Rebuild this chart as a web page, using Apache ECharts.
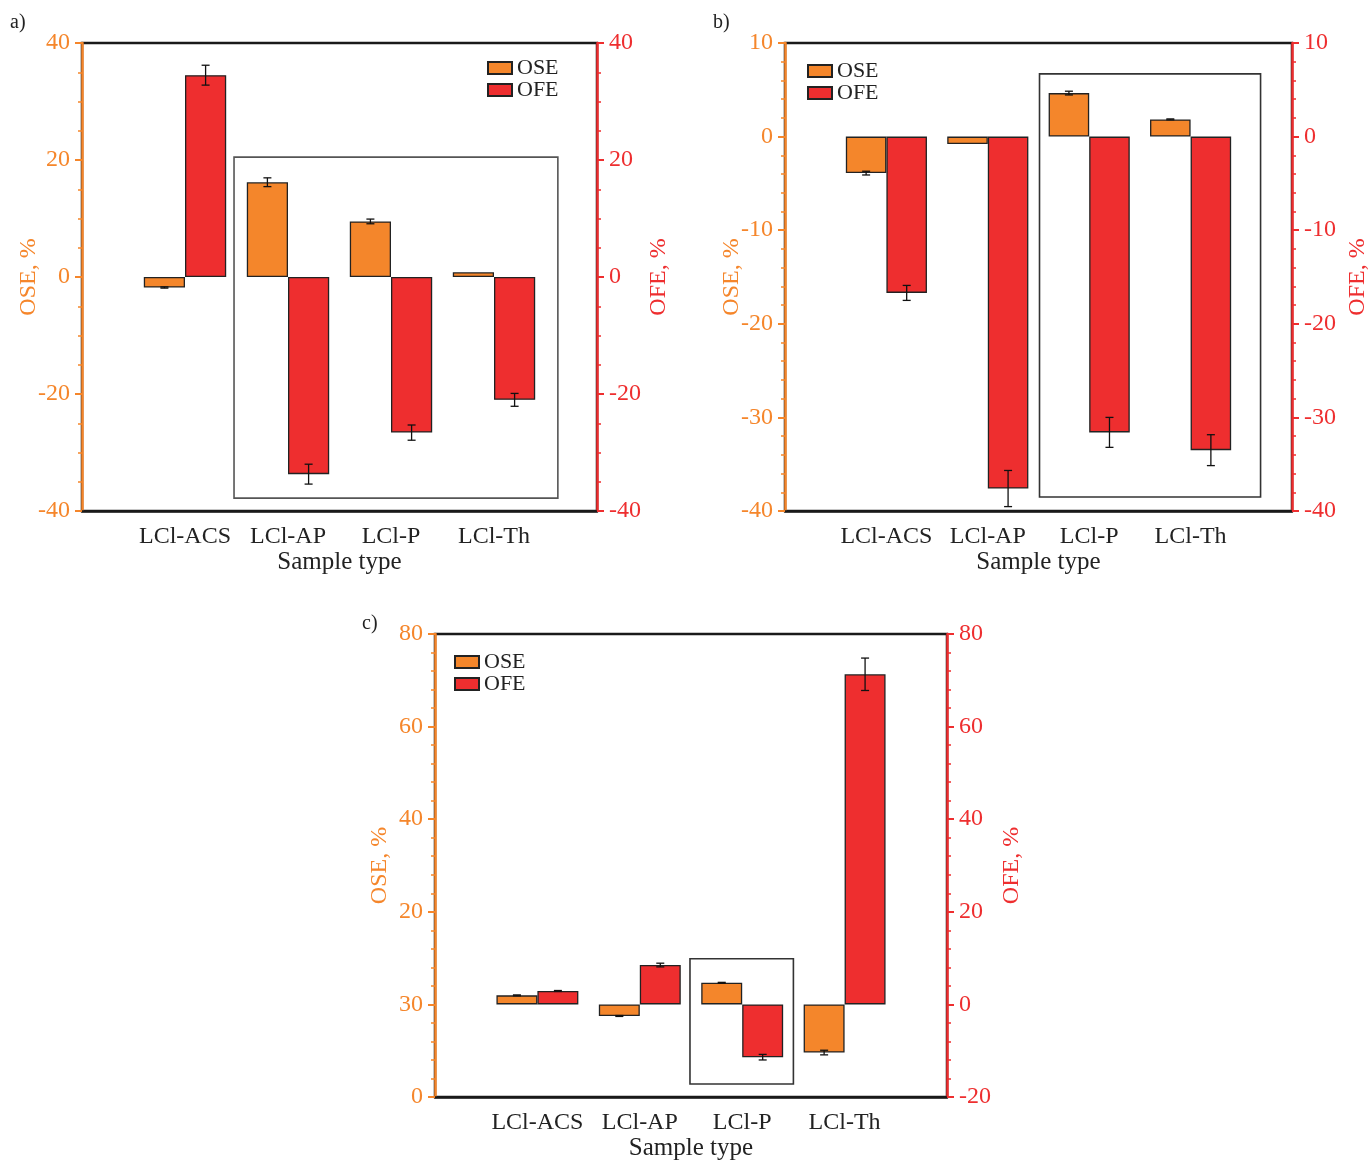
<!DOCTYPE html>
<html><head><meta charset="utf-8">
<script src="https://cdn.jsdelivr.net/npm/echarts@6/dist/echarts.min.js"></script>
<style>html,body{margin:0;padding:0;background:#fff}#c{width:1371px;height:1162px}</style>
</head><body><div id="c"></div>
<script>
// ---- data ----
const categories = ['', 'LCl-ACS', 'LCl-AP', 'LCl-P', 'LCl-Th', ' '];
// panel a
const aOSE = [-1.8, 16.2, 9.5, 0.8];
const aOSEerr = [0.1, 0.75, 0.4, 0];
const aOFE = [34.5, -33.7, -26.6, -21.0];
const aOFEerr = [1.7, 1.7, 1.3, 1.1];
// panel b
const bOSE = [-3.9, -0.8, 4.65, 1.84];
const bOSEerr = [0.2, 0, 0.2, 0.05];
const bOFE = [-16.7, -37.6, -31.6, -33.5];
const bOFEerr = [0.8, 1.93, 1.6, 1.65];
// panel c
const cOSE = [1.95, -2.5, 4.66, -10.4];
const cOSEerr = [0.1, 0.1, 0.1, 0.5];
const cOFE = [2.9, 8.5, -11.4, 71.3];
const cOFEerr = [0.1, 0.4, 0.6, 3.5];
// tick labels of panel c left axis (as printed in the original)
const cLeftTicks = [-20, 0, 20, 40, 60, 80];
const cLeftTickLabels = ['0', '30', '20', '40', '60', '80'];
// inset boxes: [x from, x to (category units), y top, y bottom]
const aBox = [1.476, 4.62, 20.5, -37.8];
const bBox = [2.51, 4.69, 6.7, -38.5];
const cBox = [2.49, 3.50, 9.85, -17.2];

const F = '"Liberation Serif", "DejaVu Serif", serif';
const ORANGE = '#F5862B', RED = '#EE2E2F';
const ORANGE_BAR = '#F4862B', RED_BAR = '#EE2E2F';
const DARK = '#222';

function xAx(gi) {
  return {
    type: 'category', gridIndex: gi, data: categories, boundaryGap: false, position: 'bottom',
    axisLine: {show: true, onZero: false, lineStyle: {color: '#1a1a1a', width: 2.5}},
    axisTick: {show: false},
    axisLabel: {interval: 0, color: DARK, fontFamily: F, fontSize: 24, margin: 14},
    splitLine: {show: false},
    name: 'Sample type', nameLocation: 'middle', nameGap: 39, nameMoveOverlap: false,
    nameTextStyle: {color: DARK, fontFamily: F, fontSize: 25}
  };
}
function yAx(gi, pos, min, max, interval, split, color, name, gap, fmt) {
  return {
    type: 'value', gridIndex: gi, position: pos, min, max, interval,
    name, nameLocation: 'middle', nameGap: gap, nameRotate: 90, nameMoveOverlap: false,
    nameTextStyle: {color, fontFamily: F, fontSize: 24},
    axisLine: {show: true, onZero: false, lineStyle: {color, width: 2.5}},
    axisTick: {show: true, inside: false, length: 7, lineStyle: {color, width: 2}},
    minorTick: {show: true, splitNumber: split, length: 4, lineStyle: {color, width: 1.5}},
    splitLine: {show: false},
    axisLabel: {color, fontFamily: F, fontSize: 24, margin: 12, formatter: fmt}
  };
}
function bar(name, vals, color, xi, yi) {
  return {
    type: 'bar', name, xAxisIndex: xi, yAxisIndex: yi, barWidth: '40%', barGap: '0%', z: 3,
    itemStyle: {color, borderColor: DARK, borderWidth: 1.3},
    data: vals.map((v, i) => [i + 1, v])
  };
}
function err(vals, errs, side, xi, yi) {
  return {
    type: 'custom', xAxisIndex: xi, yAxisIndex: yi, z: 6, silent: true,
    data: vals.map((v, i) => [i + 1, v, errs[i]]),
    renderItem(params, api) {
      const x = api.value(0), v = api.value(1), e = api.value(2);
      if (!e) return null;
      const band = api.size([1, 0])[0];
      const p0 = api.coord([x, v - e]), p1 = api.coord([x, v + e]);
      const cx = p0[0] + side * band * 0.2;
      const cap = 4, st = {stroke: '#111', lineWidth: 1.3};
      return {type: 'group', children: [
        {type: 'line', shape: {x1: cx, y1: p0[1], x2: cx, y2: p1[1]}, style: st},
        {type: 'line', shape: {x1: cx - cap, y1: p0[1], x2: cx + cap, y2: p0[1]}, style: st},
        {type: 'line', shape: {x1: cx - cap, y1: p1[1], x2: cx + cap, y2: p1[1]}, style: st}
      ]};
    }
  };
}
function box(b, xi, yi, color) {
  return {
    type: 'custom', xAxisIndex: xi, yAxisIndex: yi, z: 1, silent: true,
    data: [[0, 0, b[0], b[1], b[2], b[3]]],
    renderItem(params, api) {
      const band = api.size([1, 0])[0];
      const pt = api.coord([0, api.value(4)]), pb = api.coord([0, api.value(5)]);
      const x1 = pt[0] + api.value(2) * band, x2 = pt[0] + api.value(3) * band;
      return {type: 'rect', shape: {x: x1, y: pt[1], width: x2 - x1, height: pb[1] - pt[1]},
        style: {fill: 'none', stroke: color, lineWidth: 1.6}};
    }
  };
}
function legend(left, top) {
  return {
    orient: 'vertical', left, top, padding: 0, itemGap: 0, itemWidth: 24, itemHeight: 12,
    icon: 'rect', data: ['OSE', 'OFE'],
    textStyle: {color: DARK, fontFamily: F, fontSize: 22, lineHeight: 18}
  };
}

const grids = [
  {left: 82, top: 43, width: 515, height: 468},
  {left: 785, top: 43, width: 513, height: 468},
  {left: 435, top: 634, width: 512, height: 468}
].map(g => Object.assign(g, {show: true, borderColor: '#1a1a1a', borderWidth: 2.5, containLabel: false}));

const option = {
  animation: false,
  backgroundColor: '#fff',
  grid: grids,
  xAxis: [xAx(0), xAx(1), xAx(2)],
  yAxis: [
    yAx(0, 'left', -40, 40, 20, 4, ORANGE, 'OSE, %', 41),
    yAx(0, 'right', -40, 40, 20, 4, RED, 'OFE, %', 50),
    yAx(1, 'left', -40, 10, 10, 5, ORANGE, 'OSE, %', 41),
    yAx(1, 'right', -40, 10, 10, 5, RED, 'OFE, %', 54),
    yAx(2, 'left', -20, 80, 20, 5, ORANGE, 'OSE, %', 43,
        v => { const k = cLeftTicks.indexOf(v); return k >= 0 ? cLeftTickLabels[k] : ''; }),
    yAx(2, 'right', -20, 80, 20, 5, RED, 'OFE, %', 53)
  ],
  legend: [legend(487, 57), legend(807, 60), legend(454, 651)],
  graphic: [
    {type: 'text', left: 10, top: 13, style: {text: 'a)', font: '20px "Liberation Serif"', fill: DARK}},
    {type: 'text', left: 713, top: 13, style: {text: 'b)', font: '20px "Liberation Serif"', fill: DARK}},
    {type: 'text', left: 362, top: 614, style: {text: 'c)', font: '20px "Liberation Serif"', fill: DARK}}
  ],
  series: [
    box(aBox, 0, 0, '#555'),
    bar('OSE', aOSE, ORANGE_BAR, 0, 0), bar('OFE', aOFE, RED_BAR, 0, 1),
    err(aOSE, aOSEerr, -1, 0, 0), err(aOFE, aOFEerr, 1, 0, 1),
    box(bBox, 1, 2, '#333'),
    bar('OSE', bOSE, ORANGE_BAR, 1, 2), bar('OFE', bOFE, RED_BAR, 1, 3),
    err(bOSE, bOSEerr, -1, 1, 2), err(bOFE, bOFEerr, 1, 1, 3),
    box(cBox, 2, 4, '#333'),
    bar('OSE', cOSE, ORANGE_BAR, 2, 4), bar('OFE', cOFE, RED_BAR, 2, 5),
    err(cOSE, cOSEerr, -1, 2, 4), err(cOFE, cOFEerr, 1, 2, 5)
  ]
};
const chart = echarts.init(document.getElementById('c'), null, {renderer: 'canvas'});
chart.setOption(option);
</script>
</body></html>
